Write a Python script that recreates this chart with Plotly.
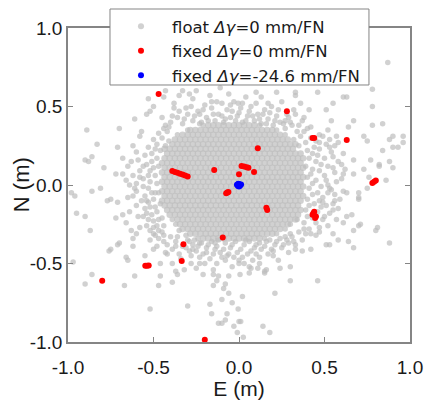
import plotly.graph_objects as go

# ---------------- data ----------------
tick_vals = [-1.0, -0.5, 0.0, 0.5, 1.0]
tick_text = ["-1.0", "-0.5", "0.0", "0.5", "1.0"]

x_title = "E (m)"
y_title = "N (m)"
legend_names = ["float <i>Δγ</i>=0 mm/FN",
                "fixed <i>Δγ</i>=0 mm/FN",
                "fixed <i>Δγ</i>=-24.6 mm/FN"]

# dense core of the float cloud, row by row (N of the row, E values in it)
core_rows_n = [0.38, 0.35, 0.32, 0.29, 0.26, 0.23, 0.20, 0.17, 0.14, 0.11, 0.08, 0.05, 0.02,
               -0.01, -0.04, -0.07, -0.10, -0.13, -0.16, -0.19, -0.22, -0.25, -0.28, -0.31, -0.34]
core_rows_e = [
    [-0.18, -0.15, -0.12, -0.09, -0.06, -0.03, 0.00, 0.03, 0.06, 0.09],
    [-0.285, -0.255, -0.225, -0.195, -0.165, -0.135, -0.105, -0.075, -0.045, -0.015, 0.015, 0.045,
     0.075, 0.105, 0.135, 0.165, 0.195],
    [-0.33, -0.30, -0.27, -0.24, -0.21, -0.18, -0.15, -0.12, -0.09, -0.06, -0.03, 0.00, 0.03, 0.06,
     0.09, 0.12, 0.15, 0.18, 0.21, 0.24],
    [-0.375, -0.345, -0.315, -0.285, -0.255, -0.225, -0.195, -0.165, -0.135, -0.105, -0.075, -0.045,
     -0.015, 0.015, 0.045, 0.075, 0.105, 0.135, 0.165, 0.195, 0.225, 0.255, 0.285],
    [-0.39, -0.36, -0.33, -0.30, -0.27, -0.24, -0.21, -0.18, -0.15, -0.12, -0.09, -0.06, -0.03, 0.00,
     0.03, 0.06, 0.09, 0.12, 0.15, 0.18, 0.21, 0.24, 0.27, 0.30, 0.33],
    [-0.435, -0.405, -0.375, -0.345, -0.315, -0.285, -0.255, -0.225, -0.195, -0.165, -0.135, -0.105, -0.075,
     -0.045, -0.015, 0.015, 0.045, 0.075, 0.105, 0.135, 0.165, 0.195, 0.225, 0.255, 0.285, 0.315],
    [-0.42, -0.39, -0.36, -0.33, -0.30, -0.27, -0.24, -0.21, -0.18, -0.15, -0.12, -0.09, -0.06, -0.03, 0.00,
     0.03, 0.06, 0.09, 0.12, 0.15, 0.18, 0.21, 0.24, 0.27, 0.30, 0.33, 0.36],
    [-0.435, -0.405, -0.375, -0.345, -0.315, -0.285, -0.255, -0.225, -0.195, -0.165, -0.135, -0.105, -0.075,
     -0.045, -0.015, 0.015, 0.045, 0.075, 0.105, 0.135, 0.165, 0.195, 0.225, 0.255, 0.285, 0.315, 0.345, 0.375],
    [-0.45, -0.42, -0.39, -0.36, -0.33, -0.30, -0.27, -0.24, -0.21, -0.18, -0.15, -0.12, -0.09, -0.06, -0.03,
     0.00, 0.03, 0.06, 0.09, 0.12, 0.15, 0.18, 0.21, 0.24, 0.27, 0.30, 0.33, 0.36],
    [-0.435, -0.405, -0.375, -0.345, -0.315, -0.285, -0.255, -0.225, -0.195, -0.165, -0.135, -0.105, -0.075,
     -0.045, -0.015, 0.015, 0.045, 0.075, 0.105, 0.135, 0.165, 0.195, 0.225, 0.255, 0.285, 0.315, 0.345, 0.375],
    [-0.45, -0.42, -0.39, -0.36, -0.33, -0.30, -0.27, -0.24, -0.21, -0.18, -0.15, -0.12, -0.09, -0.06, -0.03,
     0.00, 0.03, 0.06, 0.09, 0.12, 0.15, 0.18, 0.21, 0.24, 0.27, 0.30, 0.33, 0.36],
    [-0.435, -0.405, -0.375, -0.345, -0.315, -0.285, -0.255, -0.225, -0.195, -0.165, -0.135, -0.105, -0.075,
     -0.045, -0.015, 0.015, 0.045, 0.075, 0.105, 0.135, 0.165, 0.195, 0.225, 0.255, 0.285, 0.315, 0.345, 0.375],
    [-0.45, -0.42, -0.39, -0.36, -0.33, -0.30, -0.27, -0.24, -0.21, -0.18, -0.15, -0.12, -0.09, -0.06, -0.03,
     0.00, 0.03, 0.06, 0.09, 0.12, 0.15, 0.18, 0.21, 0.24, 0.27, 0.30, 0.33, 0.36],
    [-0.435, -0.405, -0.375, -0.345, -0.315, -0.285, -0.255, -0.225, -0.195, -0.165, -0.135, -0.105, -0.075,
     -0.045, -0.015, 0.015, 0.045, 0.075, 0.105, 0.135, 0.165, 0.195, 0.225, 0.255, 0.285, 0.315, 0.345, 0.375],
    [-0.45, -0.42, -0.39, -0.36, -0.33, -0.30, -0.27, -0.24, -0.21, -0.18, -0.15, -0.12, -0.09, -0.06, -0.03,
     0.00, 0.03, 0.06, 0.09, 0.12, 0.15, 0.18, 0.21, 0.24, 0.27, 0.30, 0.33, 0.36],
    [-0.435, -0.405, -0.375, -0.345, -0.315, -0.285, -0.255, -0.225, -0.195, -0.165, -0.135, -0.105, -0.075,
     -0.045, -0.015, 0.015, 0.045, 0.075, 0.105, 0.135, 0.165, 0.195, 0.225, 0.255, 0.285, 0.315, 0.345, 0.375],
    [-0.45, -0.42, -0.39, -0.36, -0.33, -0.30, -0.27, -0.24, -0.21, -0.18, -0.15, -0.12, -0.09, -0.06, -0.03,
     0.00, 0.03, 0.06, 0.09, 0.12, 0.15, 0.18, 0.21, 0.24, 0.27, 0.30, 0.33, 0.36],
    [-0.435, -0.405, -0.375, -0.345, -0.315, -0.285, -0.255, -0.225, -0.195, -0.165, -0.135, -0.105, -0.075,
     -0.045, -0.015, 0.015, 0.045, 0.075, 0.105, 0.135, 0.165, 0.195, 0.225, 0.255, 0.285, 0.315, 0.345],
    [-0.42, -0.39, -0.36, -0.33, -0.30, -0.27, -0.24, -0.21, -0.18, -0.15, -0.12, -0.09, -0.06, -0.03, 0.00,
     0.03, 0.06, 0.09, 0.12, 0.15, 0.18, 0.21, 0.24, 0.27, 0.30, 0.33, 0.36],
    [-0.405, -0.375, -0.345, -0.315, -0.285, -0.255, -0.225, -0.195, -0.165, -0.135, -0.105, -0.075, -0.045,
     -0.015, 0.015, 0.045, 0.075, 0.105, 0.135, 0.165, 0.195, 0.225, 0.255, 0.285, 0.315, 0.345],
    [-0.36, -0.33, -0.30, -0.27, -0.24, -0.21, -0.18, -0.15, -0.12, -0.09, -0.06, -0.03, 0.00, 0.03,
     0.06, 0.09, 0.12, 0.15, 0.18, 0.21, 0.24, 0.27, 0.30, 0.33],
    [-0.345, -0.315, -0.285, -0.255, -0.225, -0.195, -0.165, -0.135, -0.105, -0.075, -0.045, -0.015,
     0.015, 0.045, 0.075, 0.105, 0.135, 0.165, 0.195, 0.225, 0.255, 0.285],
    [-0.33, -0.30, -0.27, -0.24, -0.21, -0.18, -0.15, -0.12, -0.09, -0.06, -0.03, 0.00, 0.03, 0.06,
     0.09, 0.12, 0.15, 0.18, 0.21, 0.24],
    [-0.285, -0.255, -0.225, -0.195, -0.165, -0.135, -0.105, -0.075, -0.045, -0.015, 0.015, 0.045,
     0.075, 0.105, 0.135, 0.165, 0.195],
    [-0.21, -0.18, -0.15, -0.12, -0.09, -0.06, -0.03, 0.00, 0.03, 0.06, 0.09, 0.12],
]

# scattered float solutions around the core (E, N)
float_pts = [
    # fringe above the core
    (-0.40, 0.40), (-0.36, 0.43), (-0.33, 0.39), (-0.30, 0.45), (-0.27, 0.41), (-0.24, 0.47), (-0.22, 0.40),
    (-0.19, 0.43), (-0.16, 0.49), (-0.14, 0.41), (-0.12, 0.45), (-0.09, 0.40), (-0.07, 0.48), (-0.05, 0.43),
    (-0.02, 0.41), (0.00, 0.46), (0.02, 0.40), (0.05, 0.44), (0.07, 0.50), (0.09, 0.41), (0.11, 0.45),
    (0.13, 0.39), (0.15, 0.48), (0.17, 0.42), (0.20, 0.38), (0.22, 0.44), (0.24, 0.40), (0.27, 0.36),
    (0.29, 0.43), (0.31, 0.38), (0.34, 0.34), (0.02, 0.52), (-0.20, 0.51), (0.19, 0.50), (-0.31, 0.49),
    (-0.43, 0.38), (-0.39, 0.44), (-0.35, 0.47), (-0.32, 0.42), (-0.28, 0.50), (-0.26, 0.44), (-0.23, 0.39),
    (-0.21, 0.48), (-0.18, 0.41), (-0.15, 0.45), (-0.13, 0.53), (-0.10, 0.44), (-0.08, 0.42), (-0.04, 0.47),
    (-0.01, 0.44), (0.01, 0.49), (0.04, 0.41), (0.06, 0.47), (0.08, 0.44), (0.10, 0.52), (0.12, 0.42),
    (0.14, 0.45), (0.16, 0.39), (0.18, 0.46), (0.21, 0.41), (0.23, 0.48), (0.26, 0.39), (0.28, 0.45),
    (0.30, 0.40), (0.32, 0.48), (0.35, 0.38), (0.38, 0.43), (0.40, 0.36), (0.36, 0.52), (0.25, 0.53),
    (-0.38, 0.49), (-0.27, 0.55), (0.13, 0.56), (-0.05, 0.51), (-0.16, 0.53),
    (-0.21, 0.38), (0.12, 0.38), (-0.30, 0.35), (0.22, 0.35), (-0.36, 0.32), (0.27, 0.32), (-0.41, 0.28),
    (0.32, 0.29), (-0.43, 0.25), (0.35, 0.25),
    # fringe right
    (0.36, 0.31), (0.39, 0.27), (0.42, 0.30), (0.40, 0.22), (0.44, 0.24), (0.41, 0.17), (0.46, 0.19),
    (0.39, 0.12), (0.43, 0.10), (0.48, 0.13), (0.40, 0.05), (0.45, 0.03), (0.50, 0.06), (0.41, -0.02),
    (0.46, -0.05), (0.52, 0.00), (0.40, -0.09), (0.44, -0.12), (0.49, -0.08), (0.39, -0.16), (0.43, -0.21),
    (0.48, -0.14), (0.38, -0.24), (0.41, -0.28), (0.35, -0.30), (0.54, -0.03), (0.50, -0.20), (0.47, 0.27),
    (0.38, 0.34), (0.42, 0.37), (0.45, 0.28), (0.49, 0.31), (0.43, 0.20), (0.47, 0.23), (0.51, 0.26),
    (0.45, 0.15), (0.50, 0.17), (0.54, 0.21), (0.42, 0.07), (0.47, 0.09), (0.52, 0.12), (0.56, 0.08),
    (0.43, 0.01), (0.48, -0.01), (0.51, 0.03), (0.57, 0.02), (0.43, -0.06), (0.47, -0.10), (0.52, -0.05),
    (0.56, -0.06), (0.41, -0.13), (0.46, -0.17), (0.51, -0.13), (0.55, -0.16), (0.40, -0.20), (0.45, -0.24),
    (0.49, -0.22), (0.42, -0.31), (0.38, -0.28), (0.47, -0.30), (0.59, -0.09), (0.60, 0.04), (0.58, 0.15),
    (0.62, 0.10), (0.53, 0.29), (0.56, 0.25),
    # fringe left
    (-0.45, 0.30), (-0.48, 0.26), (-0.46, 0.22), (-0.51, 0.20), (-0.48, 0.17), (-0.47, 0.12), (-0.52, 0.09),
    (-0.49, 0.06), (-0.48, 0.01), (-0.53, -0.02), (-0.47, -0.05), (-0.50, -0.09), (-0.46, -0.12),
    (-0.52, -0.14), (-0.48, -0.17), (-0.45, -0.21), (-0.50, -0.23), (-0.44, -0.26), (-0.47, -0.29),
    (-0.56, 0.04), (-0.55, -0.07), (-0.42, 0.34), (-0.44, -0.32),
    (-0.44, 0.36), (-0.47, 0.33), (-0.50, 0.29), (-0.53, 0.24), (-0.49, 0.23), (-0.55, 0.19), (-0.51, 0.15),
    (-0.56, 0.12), (-0.50, 0.11), (-0.53, 0.06), (-0.58, 0.05), (-0.52, 0.02), (-0.56, -0.01), (-0.61, -0.02),
    (-0.51, -0.05), (-0.57, -0.10), (-0.53, -0.11), (-0.49, -0.14), (-0.55, -0.15), (-0.51, -0.19),
    (-0.47, -0.22), (-0.53, -0.22), (-0.48, -0.26), (-0.45, -0.30), (-0.52, -0.29), (-0.47, -0.34),
    (-0.63, 0.15), (-0.62, 0.25), (-0.65, -0.08), (-0.66, 0.03), (-0.57, 0.34), (-0.64, -0.17),
    # fringe below
    (-0.40, -0.33), (-0.37, -0.36), (-0.33, -0.39), (-0.30, -0.35), (-0.27, -0.38), (-0.25, -0.42),
    (-0.22, -0.37), (-0.19, -0.40), (-0.16, -0.36), (-0.13, -0.39), (-0.11, -0.43), (-0.08, -0.37),
    (-0.05, -0.40), (-0.02, -0.36), (0.01, -0.41), (0.03, -0.38), (0.06, -0.36), (0.09, -0.40), (0.12, -0.37),
    (0.15, -0.39), (0.18, -0.35), (0.21, -0.38), (0.24, -0.34), (0.27, -0.33), (0.30, -0.31), (-0.35, -0.44),
    (-0.07, -0.45), (0.17, -0.44), (0.00, -0.48),
    (-0.42, -0.38), (-0.39, -0.41), (-0.36, -0.33), (-0.34, -0.47), (-0.31, -0.40), (-0.28, -0.45),
    (-0.26, -0.35), (-0.24, -0.39), (-0.21, -0.44), (-0.18, -0.38), (-0.17, -0.47), (-0.14, -0.41),
    (-0.12, -0.35), (-0.10, -0.46), (-0.09, -0.41), (-0.06, -0.44), (-0.04, -0.38), (-0.01, -0.43),
    (0.02, -0.46), (0.04, -0.35), (0.07, -0.42), (0.10, -0.38), (0.10, -0.44), (0.13, -0.41), (0.16, -0.36),
    (0.19, -0.41), (0.22, -0.36), (0.25, -0.40), (0.28, -0.35), (0.31, -0.33), (0.33, -0.38), (0.03, -0.50),
    (-0.13, -0.50), (0.08, -0.48), (-0.28, -0.50),
    (-0.39, -0.22), (0.34, -0.22), (-0.37, -0.25), (0.30, -0.25), (-0.35, -0.29), (0.27, -0.28),
    (-0.31, -0.32), (0.22, -0.31), (-0.24, -0.34), (0.15, -0.34),
    # upper left
    (-0.89, 0.35), (-0.83, 0.26), (-0.90, 0.16), (-0.86, 0.18), (-0.79, 0.11), (-0.71, 0.24), (-0.68, 0.17),
    (-0.70, 0.36), (-0.61, 0.42), (-0.60, 0.21), (-0.59, 0.16), (-0.54, 0.45), (-0.52, 0.47), (-0.50, 0.50),
    (-0.53, 0.55), (-0.58, 0.31), (-0.65, 0.12), (-0.54, 0.13), (-0.58, 0.09), (-0.68, 0.07), (-0.62, 0.06),
    (-0.72, 0.07), (-0.60, 0.01), (-0.64, 0.00), (-0.45, 0.43), (-0.41, 0.37), (-0.44, 0.56), (-0.43, 0.60),
    (-0.35, 0.57), (-0.33, 0.60), (-0.29, 0.58), (-0.38, 0.52), (-0.25, 0.60), (-0.17, 0.57), (-0.11, 0.62),
    (-0.10, 0.52), (-0.06, 0.58), (-0.03, 0.53), (-0.23, 0.45), (-0.88, 0.15),
    # left
    (-0.96, -0.07), (-0.98, -0.05), (-0.95, -0.18), (-0.90, -0.20), (-0.87, -0.29), (-0.81, -0.02),
    (-0.86, -0.04), (-0.75, -0.09), (-0.71, -0.11), (-0.68, -0.19), (-0.66, -0.24), (-0.63, -0.29),
    (-0.71, -0.38), (-0.75, -0.41), (-0.66, -0.46), (-0.62, -0.34), (-0.58, -0.27), (-0.54, -0.18),
    (-0.60, -0.04), (-0.50, -0.31), (-0.48, -0.39), (-0.44, -0.36), (-0.42, -0.44), (-0.46, -0.50),
    (-0.39, -0.50), (-0.29, -0.42), (-0.23, -0.46), (-0.15, -0.44), (-0.03, -0.46), (0.05, -0.44),
    (0.12, -0.46), (0.20, -0.42), (0.26, -0.38), (0.32, -0.36), (-0.77, -0.10), (-0.72, -0.21),
    (-0.60, -0.13), (-0.59, -0.20), (-0.70, -0.37), (-0.62, -0.39), (-0.76, -0.42), (-0.65, -0.48),
    (-0.60, -0.31), (-0.54, -0.26), (-0.55, -0.45), (-0.49, -0.32), (-0.50, -0.41), (-0.43, -0.43),
    (-0.37, -0.39), (-0.62, -0.07), (-0.54, -0.10), (-0.49, -0.05), (-0.56, -0.20), (-0.50, -0.27),
    (-0.52, -0.35), (-0.29, -0.36), (-0.27, -0.41), (-0.23, -0.37), (-0.19, -0.43), (-0.14, -0.37),
    (-0.08, -0.48), (-0.04, -0.52), (-0.97, -0.49),
    # right
    (0.47, -0.27), (0.53, -0.18), (0.55, -0.12), (0.61, -0.04), (0.70, -0.08), (0.75, -0.02), (0.86, 0.03),
    (0.90, 0.11), (0.82, 0.13), (0.77, 0.16), (0.75, 0.28), (0.88, 0.29), (0.90, 0.24), (0.81, -0.27),
    (0.88, -0.37), (0.67, -0.29), (0.55, -0.31), (0.70, -0.26), (0.80, -0.29), (0.67, -0.40), (0.64, -0.36),
    (0.53, -0.38), (0.45, -0.32), (0.37, -0.42), (0.42, -0.41), (0.58, -0.35), (0.63, -0.20), (0.66, -0.19),
    (0.71, -0.25), (0.58, -0.15), (0.56, -0.10), (0.49, -0.11), (0.70, -0.05), (0.70, -0.09), (0.63, -0.05),
    (0.53, -0.02), (0.29, -0.43), (0.33, -0.41), (0.37, -0.35), (0.29, -0.37), (0.39, -0.31), (0.51, -0.38),
    (0.52, -0.26), (0.57, -0.22), (0.61, -0.24), (0.20, -0.45), (0.23, -0.48),
    # upper right
    (0.87, 0.78), (0.78, 0.61), (0.78, 0.50), (0.78, 0.38), (0.84, 0.39), (0.90, 0.31), (0.96, 0.31),
    (0.93, 0.24), (0.96, 0.27), (0.84, 0.22), (0.88, 0.15), (0.82, 0.12), (0.73, 0.31), (0.67, 0.41),
    (0.64, 0.37), (0.61, 0.56), (0.63, 0.56), (0.55, 0.52), (0.54, 0.41), (0.51, 0.48), (0.46, 0.59),
    (0.33, 0.57), (0.33, 0.59), (0.22, 0.59), (0.17, 0.52), (0.10, 0.59), (0.04, 0.56), (-0.005, 0.52),
    (0.41, 0.48), (0.37, 0.41), (0.33, 0.45), (0.27, 0.41), (0.47, 0.32), (0.57, 0.31), (0.53, 0.24),
    (0.61, 0.20), (0.67, 0.16), (0.73, 0.10), (0.76, 0.05), (0.67, 0.07), (0.61, 0.07), (0.55, 0.11),
    (0.52, 0.35), (0.58, 0.27), (0.55, 0.18), (0.60, 0.13),
    # bottom
    (-0.90, -0.63), (-0.86, -0.57), (-0.67, -0.64), (-0.61, -0.58), (-0.52, -0.79), (-0.47, -0.64),
    (-0.46, -0.58), (-0.39, -0.62), (-0.36, -0.57), (-0.30, -0.77), (-0.25, -0.53), (-0.20, -0.50),
    (-0.17, -0.76), (-0.16, -0.82), (-0.15, -0.57), (-0.13, -0.61), (-0.12, -0.88), (-0.10, -0.88),
    (-0.10, -0.73), (-0.09, -0.66), (-0.07, -0.82), (-0.06, -0.58), (-0.01, -0.94), (-0.005, -0.79),
    (0.00, -0.87), (0.01, -0.87), (0.02, -0.71), (0.025, -0.97), (0.006, -0.57), (0.07, -0.53),
    (0.11, -0.53), (0.14, -0.90), (0.15, -0.56), (0.18, -0.94), (0.21, -0.69), (0.24, -0.53), (0.30, -0.61),
    (0.30, -0.52), (0.46, -0.61), (-0.21, -0.57), (0.06, -0.56), (0.15, -0.55), (-0.37, -0.55),
    (-0.32, -0.54), (-0.23, -0.50), (-0.15, -0.54), (-0.15, -0.64), (-0.12, -0.58), (-0.08, -0.63),
    (-0.06, -0.69), (-0.04, -0.75), (-0.08, -0.86), (-0.03, -0.90), (0.00, -0.50), (0.06, -0.52),
    (0.12, -0.50), (0.16, -0.54),
]

# fixed solutions, delta gamma = 0 mm/FN
fixed0_e = [-0.47, 0.28, 0.43, 0.44, 0.63, 0.11,
            -0.39, -0.375, -0.36, -0.345, -0.33, -0.315, -0.30,
            -0.145, 0.015, 0.03, 0.045, 0.055, 0.00, 0.088,
            -0.075, -0.068, -0.062, 0.16, 0.165,
            0.43, 0.44, 0.45, 0.445, 0.435,
            0.78, 0.79, 0.80,
            -0.095, -0.325, -0.335, -0.548, -0.538, -0.528, -0.80, -0.20]
fixed0_n = [0.58, 0.47, 0.30, 0.30, 0.287, 0.234,
            0.089, 0.083, 0.078, 0.072, 0.067, 0.06, 0.054,
            0.096, 0.121, 0.118, 0.113, 0.11, 0.068, 0.083,
            -0.053, -0.048, -0.044, -0.145, -0.16,
            -0.19, -0.17, -0.20, -0.21, -0.18,
            0.012, 0.02, 0.028,
            -0.335, -0.378, -0.484, -0.514, -0.514, -0.512, -0.61, -0.985]

# fixed solutions, delta gamma = -24.6 mm/FN
fixedd_e = [-0.012, -0.006, 0.0, 0.006, 0.012, -0.004, 0.004, 0.0]
fixedd_n = [0.002, -0.006, 0.006, -0.004, 0.003, 0.008, 0.0, -0.009]

# ---------------- build ----------------
core_e = [e for row in core_rows_e for e in row]
core_n = [n for n, row in zip(core_rows_n, core_rows_e) for _ in row]
float_e = core_e + [p[0] for p in float_pts]
float_n = core_n + [p[1] for p in float_pts]
float_sizes = [6.6] * len(core_e) + [5.5] * len(float_pts)

FONT = "Liberation Sans, Arial, sans-serif"
LEG_FONT = "DejaVu Sans, Liberation Sans, sans-serif"
AXIS_COL = "#858585"
TXT_COL = "#1a1a1a"

fig = go.Figure()
fig.add_trace(go.Scatter(x=float_e, y=float_n, mode="markers", name=legend_names[0],
                         marker=dict(color="#BEBEBE", size=float_sizes, line=dict(width=0))))
fig.add_trace(go.Scatter(x=fixed0_e, y=fixed0_n, mode="markers", name=legend_names[1],
                         marker=dict(color="#FF0000", size=6, line=dict(width=0))))
fig.add_trace(go.Scatter(x=fixedd_e, y=fixedd_n, mode="markers", name=legend_names[2],
                         marker=dict(color="#0000FF", size=6, line=dict(width=0))))

axis_common = dict(range=[-1, 1], tickvals=tick_vals, ticktext=tick_text, automargin=False,
                   showgrid=False, zeroline=False, showline=True, linecolor=AXIS_COL, linewidth=1.5,
                   mirror="ticks", ticks="inside", ticklen=5, tickcolor=AXIS_COL, tickwidth=1,
                   tickfont=dict(family=FONT, size=19, color=TXT_COL))

fig.update_xaxes(**axis_common, ticklabelstandoff=7,
                 title=dict(text=x_title, font=dict(family=FONT, size=21, color=TXT_COL), standoff=2))
fig.update_yaxes(**axis_common)

# y-axis title placed as rotated text close to the tick labels (as in the reference)
fig.add_annotation(text=y_title, xref="paper", yref="paper", x=-0.137, y=0.5,
                   xanchor="center", yanchor="middle", textangle=-90, showarrow=False,
                   font=dict(family=FONT, size=22, color=TXT_COL))

# legend frame (box drawn behind the legend entries)
fig.add_shape(type="rect", xref="paper", yref="paper",
              x0=0.1228, x1=0.880, y0=0.8185, y1=1.0605,
              fillcolor="white", line=dict(color=AXIS_COL, width=1), layer="above")

fig.update_layout(
    width=425, height=400,
    margin=dict(l=68, r=15, t=28, b=58, autoexpand=False),
    paper_bgcolor="white", plot_bgcolor="white",
    showlegend=True,
    legend=dict(x=0.1228, y=1.0605, xanchor="left", yanchor="top",
                bgcolor="rgba(0,0,0,0)", borderwidth=0,
                font=dict(family=LEG_FONT, size=16.5, color=TXT_COL),
                itemwidth=52, tracegroupgap=0),
)

fig.write_html("out.html")
